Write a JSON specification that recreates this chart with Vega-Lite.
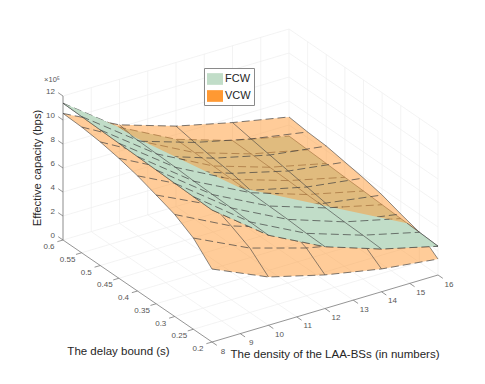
{"$schema":"https://vega.github.io/schema/vega-lite/v6.json","width":485,"height":384,"padding":0,"autosize":"none","background":"white","view":{"stroke":null},
"data":{"values":[
{"k":"s","s":"FCW","f":1,"n":8,"d":0.6,"c":11.4},{"k":"s","s":"FCW","f":1,"n":8,"d":0.55,"c":11.35},{"k":"s","s":"FCW","f":1,"n":8,"d":0.5,"c":11.3},{"k":"s","s":"FCW","f":1,"n":8,"d":0.45,"c":11.25},{"k":"s","s":"FCW","f":1,"n":8,"d":0.4,"c":11.2},{"k":"s","s":"FCW","f":1,"n":8,"d":0.35,"c":11.15},{"k":"s","s":"FCW","f":1,"n":8,"d":0.3,"c":11.1},{"k":"s","s":"FCW","f":1,"n":8,"d":0.25,"c":11.05},{"k":"s","s":"FCW","f":1,"n":8,"d":0.2,"c":11.0},
{"k":"s","s":"FCW","f":0,"n":10,"d":0.6,"c":8.0},{"k":"s","s":"FCW","f":1,"n":10,"d":0.55,"c":7.95},{"k":"s","s":"FCW","f":1,"n":10,"d":0.5,"c":7.9},{"k":"s","s":"FCW","f":1,"n":10,"d":0.45,"c":7.85},{"k":"s","s":"FCW","f":1,"n":10,"d":0.4,"c":7.75},{"k":"s","s":"FCW","f":1,"n":10,"d":0.35,"c":7.7},{"k":"s","s":"FCW","f":1,"n":10,"d":0.3,"c":7.65},{"k":"s","s":"FCW","f":1,"n":10,"d":0.25,"c":7.55},{"k":"s","s":"FCW","f":1,"n":10,"d":0.2,"c":7.5},
{"k":"s","s":"FCW","f":0,"n":12,"d":0.6,"c":5.6},{"k":"s","s":"FCW","f":0,"n":12,"d":0.55,"c":5.55},{"k":"s","s":"FCW","f":0,"n":12,"d":0.5,"c":5.5},{"k":"s","s":"FCW","f":0,"n":12,"d":0.45,"c":5.45},{"k":"s","s":"FCW","f":1,"n":12,"d":0.4,"c":5.4},{"k":"s","s":"FCW","f":1,"n":12,"d":0.35,"c":5.35},{"k":"s","s":"FCW","f":1,"n":12,"d":0.3,"c":5.3},{"k":"s","s":"FCW","f":1,"n":12,"d":0.25,"c":5.2},{"k":"s","s":"FCW","f":1,"n":12,"d":0.2,"c":5.15},
{"k":"s","s":"FCW","f":0,"n":14,"d":0.6,"c":4.1},{"k":"s","s":"FCW","f":0,"n":14,"d":0.55,"c":4.05},{"k":"s","s":"FCW","f":0,"n":14,"d":0.5,"c":4.0},{"k":"s","s":"FCW","f":0,"n":14,"d":0.45,"c":3.95},{"k":"s","s":"FCW","f":0,"n":14,"d":0.4,"c":3.85},{"k":"s","s":"FCW","f":1,"n":14,"d":0.35,"c":3.8},{"k":"s","s":"FCW","f":1,"n":14,"d":0.3,"c":3.7},{"k":"s","s":"FCW","f":1,"n":14,"d":0.25,"c":3.65},{"k":"s","s":"FCW","f":1,"n":14,"d":0.2,"c":3.56},
{"k":"s","s":"FCW","f":0,"n":16,"d":0.6,"c":3.08},{"k":"s","s":"FCW","f":0,"n":16,"d":0.55,"c":3.0},{"k":"s","s":"FCW","f":0,"n":16,"d":0.5,"c":2.92},{"k":"s","s":"FCW","f":0,"n":16,"d":0.45,"c":2.83},{"k":"s","s":"FCW","f":0,"n":16,"d":0.4,"c":2.75},{"k":"s","s":"FCW","f":0,"n":16,"d":0.35,"c":2.67},{"k":"s","s":"FCW","f":0,"n":16,"d":0.3,"c":2.58},{"k":"s","s":"FCW","f":1,"n":16,"d":0.25,"c":2.5},{"k":"s","s":"FCW","f":1,"n":16,"d":0.2,"c":2.4},
{"k":"s","s":"VCW","n":8,"d":0.6,"c":10.55},{"k":"s","s":"VCW","n":8,"d":0.55,"c":10.48},{"k":"s","s":"VCW","n":8,"d":0.5,"c":10.3},{"k":"s","s":"VCW","n":8,"d":0.45,"c":10.0},{"k":"s","s":"VCW","n":8,"d":0.4,"c":9.6},{"k":"s","s":"VCW","n":8,"d":0.35,"c":9.06},{"k":"s","s":"VCW","n":8,"d":0.3,"c":8.5},{"k":"s","s":"VCW","n":8,"d":0.25,"c":7.6},{"k":"s","s":"VCW","n":8,"d":0.2,"c":6.08},
{"k":"s","s":"VCW","n":10,"d":0.6,"c":8.2},{"k":"s","s":"VCW","n":10,"d":0.55,"c":7.9},{"k":"s","s":"VCW","n":10,"d":0.5,"c":7.73},{"k":"s","s":"VCW","n":10,"d":0.45,"c":7.6},{"k":"s","s":"VCW","n":10,"d":0.4,"c":7.27},{"k":"s","s":"VCW","n":10,"d":0.35,"c":6.83},{"k":"s","s":"VCW","n":10,"d":0.3,"c":6.15},{"k":"s","s":"VCW","n":10,"d":0.25,"c":5.37},{"k":"s","s":"VCW","n":10,"d":0.2,"c":4.02},
{"k":"s","s":"VCW","n":12,"d":0.6,"c":6.7},{"k":"s","s":"VCW","n":12,"d":0.55,"c":6.4},{"k":"s","s":"VCW","n":12,"d":0.5,"c":6.15},{"k":"s","s":"VCW","n":12,"d":0.45,"c":5.95},{"k":"s","s":"VCW","n":12,"d":0.4,"c":5.6},{"k":"s","s":"VCW","n":12,"d":0.35,"c":5.1},{"k":"s","s":"VCW","n":12,"d":0.3,"c":4.6},{"k":"s","s":"VCW","n":12,"d":0.25,"c":3.98},{"k":"s","s":"VCW","n":12,"d":0.2,"c":2.8},
{"k":"s","s":"VCW","n":14,"d":0.6,"c":5.6},{"k":"s","s":"VCW","n":14,"d":0.55,"c":5.3},{"k":"s","s":"VCW","n":14,"d":0.5,"c":5.02},{"k":"s","s":"VCW","n":14,"d":0.45,"c":4.75},{"k":"s","s":"VCW","n":14,"d":0.4,"c":4.48},{"k":"s","s":"VCW","n":14,"d":0.35,"c":4.2},{"k":"s","s":"VCW","n":14,"d":0.3,"c":3.75},{"k":"s","s":"VCW","n":14,"d":0.25,"c":3.0},{"k":"s","s":"VCW","n":14,"d":0.2,"c":1.9},
{"k":"s","s":"VCW","n":16,"d":0.6,"c":4.67},{"k":"s","s":"VCW","n":16,"d":0.55,"c":4.48},{"k":"s","s":"VCW","n":16,"d":0.5,"c":4.37},{"k":"s","s":"VCW","n":16,"d":0.45,"c":4.1},{"k":"s","s":"VCW","n":16,"d":0.4,"c":3.83},{"k":"s","s":"VCW","n":16,"d":0.35,"c":3.48},{"k":"s","s":"VCW","n":16,"d":0.3,"c":2.96},{"k":"s","s":"VCW","n":16,"d":0.25,"c":2.5},{"k":"s","s":"VCW","n":16,"d":0.2,"c":1.33},
{"k":"xr","n":10.3,"d":0.55,"c":7.59},{"k":"xr","n":11,"d":0.5,"c":6.7},{"k":"xr","n":11.7,"d":0.45,"c":5.81},{"k":"xr","n":13,"d":0.4,"c":4.62},{"k":"xr","n":14.6,"d":0.35,"c":3.46},{"k":"xr","n":15.6,"d":0.3,"c":2.8},
{"k":"xc","n":10,"d":0.57,"c":7.97},{"k":"xc","n":12,"d":0.43,"c":5.3},{"k":"xc","n":14,"d":0.37,"c":3.85},{"k":"xc","n":16,"d":0.283,"c":2.55},
{"k":"front","o":0,"n":16,"d":0.283,"c":2.55},{"k":"front","o":1,"n":14.25,"d":0.365,"c":3.45},{"k":"front","o":2,"n":12,"d":0.43,"c":5.2},{"k":"front","o":3,"n":10.2,"d":0.57,"c":7.6},{"k":"front","o":4,"n":9.9,"d":0.6,"c":8.15},{"k":"front","o":5,"n":8,"d":0.6,"c":11.4},{"k":"front","o":6,"n":8,"d":0.2,"c":11.0},{"k":"front","o":7,"n":10,"d":0.2,"c":7.5},{"k":"front","o":8,"n":12,"d":0.2,"c":5.15},{"k":"front","o":9,"n":14,"d":0.2,"c":3.56},{"k":"front","o":10,"n":16,"d":0.2,"c":2.4},
{"k":"g","n":8,"d":0.6,"c":0,"n2":8,"d2":0.6,"c2":12},{"k":"g","n":9,"d":0.6,"c":0,"n2":9,"d2":0.6,"c2":12},{"k":"g","n":10,"d":0.6,"c":0,"n2":10,"d2":0.6,"c2":12},{"k":"g","n":11,"d":0.6,"c":0,"n2":11,"d2":0.6,"c2":12},{"k":"g","n":12,"d":0.6,"c":0,"n2":12,"d2":0.6,"c2":12},{"k":"g","n":13,"d":0.6,"c":0,"n2":13,"d2":0.6,"c2":12},{"k":"g","n":14,"d":0.6,"c":0,"n2":14,"d2":0.6,"c2":12},{"k":"g","n":15,"d":0.6,"c":0,"n2":15,"d2":0.6,"c2":12},{"k":"g","n":16,"d":0.6,"c":0,"n2":16,"d2":0.6,"c2":12},
{"k":"g","n":16,"d":0.55,"c":0,"n2":16,"d2":0.55,"c2":12},{"k":"g","n":16,"d":0.5,"c":0,"n2":16,"d2":0.5,"c2":12},{"k":"g","n":16,"d":0.45,"c":0,"n2":16,"d2":0.45,"c2":12},{"k":"g","n":16,"d":0.4,"c":0,"n2":16,"d2":0.4,"c2":12},{"k":"g","n":16,"d":0.35,"c":0,"n2":16,"d2":0.35,"c2":12},{"k":"g","n":16,"d":0.3,"c":0,"n2":16,"d2":0.3,"c2":12},{"k":"g","n":16,"d":0.25,"c":0,"n2":16,"d2":0.25,"c2":12},{"k":"g","n":16,"d":0.2,"c":0,"n2":16,"d2":0.2,"c2":12},
{"k":"g","n":8,"d":0.6,"c":0,"n2":16,"d2":0.6,"c2":0},{"k":"g","n":8,"d":0.6,"c":2,"n2":16,"d2":0.6,"c2":2},{"k":"g","n":8,"d":0.6,"c":4,"n2":16,"d2":0.6,"c2":4},{"k":"g","n":8,"d":0.6,"c":6,"n2":16,"d2":0.6,"c2":6},{"k":"g","n":8,"d":0.6,"c":8,"n2":16,"d2":0.6,"c2":8},{"k":"g","n":8,"d":0.6,"c":10,"n2":16,"d2":0.6,"c2":10},{"k":"g","n":8,"d":0.6,"c":12,"n2":16,"d2":0.6,"c2":12},
{"k":"g","n":16,"d":0.6,"c":0,"n2":16,"d2":0.2,"c2":0},{"k":"g","n":16,"d":0.6,"c":2,"n2":16,"d2":0.2,"c2":2},{"k":"g","n":16,"d":0.6,"c":4,"n2":16,"d2":0.2,"c2":4},{"k":"g","n":16,"d":0.6,"c":6,"n2":16,"d2":0.2,"c2":6},{"k":"g","n":16,"d":0.6,"c":8,"n2":16,"d2":0.2,"c2":8},{"k":"g","n":16,"d":0.6,"c":10,"n2":16,"d2":0.2,"c2":10},{"k":"g","n":16,"d":0.6,"c":12,"n2":16,"d2":0.2,"c2":12},
{"k":"g","n":9,"d":0.6,"c":0,"n2":9,"d2":0.2,"c2":0},{"k":"g","n":10,"d":0.6,"c":0,"n2":10,"d2":0.2,"c2":0},{"k":"g","n":11,"d":0.6,"c":0,"n2":11,"d2":0.2,"c2":0},{"k":"g","n":12,"d":0.6,"c":0,"n2":12,"d2":0.2,"c2":0},{"k":"g","n":13,"d":0.6,"c":0,"n2":13,"d2":0.2,"c2":0},{"k":"g","n":14,"d":0.6,"c":0,"n2":14,"d2":0.2,"c2":0},{"k":"g","n":15,"d":0.6,"c":0,"n2":15,"d2":0.2,"c2":0},
{"k":"g","n":8,"d":0.55,"c":0,"n2":16,"d2":0.55,"c2":0},{"k":"g","n":8,"d":0.5,"c":0,"n2":16,"d2":0.5,"c2":0},{"k":"g","n":8,"d":0.45,"c":0,"n2":16,"d2":0.45,"c2":0},{"k":"g","n":8,"d":0.4,"c":0,"n2":16,"d2":0.4,"c2":0},{"k":"g","n":8,"d":0.35,"c":0,"n2":16,"d2":0.35,"c2":0},{"k":"g","n":8,"d":0.3,"c":0,"n2":16,"d2":0.3,"c2":0},{"k":"g","n":8,"d":0.25,"c":0,"n2":16,"d2":0.25,"c2":0},
{"k":"a","n":8,"d":0.6,"c":0,"n2":8,"d2":0.6,"c2":12},{"k":"a","n":8,"d":0.6,"c":0,"n2":8,"d2":0.2,"c2":0},{"k":"a","n":8,"d":0.2,"c":0,"n2":16,"d2":0.2,"c2":0},
{"k":"lc","t":"0","n":8,"d":0.6,"c":0,"n2":8,"d2":0.613,"c2":0},{"k":"lc","t":"2","n":8,"d":0.6,"c":2,"n2":8,"d2":0.613,"c2":2},{"k":"lc","t":"4","n":8,"d":0.6,"c":4,"n2":8,"d2":0.613,"c2":4},{"k":"lc","t":"6","n":8,"d":0.6,"c":6,"n2":8,"d2":0.613,"c2":6},{"k":"lc","t":"8","n":8,"d":0.6,"c":8,"n2":8,"d2":0.613,"c2":8},{"k":"lc","t":"10","n":8,"d":0.6,"c":10,"n2":8,"d2":0.613,"c2":10},{"k":"lc","t":"12","n":8,"d":0.6,"c":12,"n2":8,"d2":0.613,"c2":12},
{"k":"ld","t":"0.6","n":8,"d":0.6,"c":0,"n2":7.8,"d2":0.6,"c2":0},{"k":"ld","t":"0.55","n":8,"d":0.55,"c":0,"n2":7.8,"d2":0.55,"c2":0},{"k":"ld","t":"0.5","n":8,"d":0.5,"c":0,"n2":7.8,"d2":0.5,"c2":0},{"k":"ld","t":"0.45","n":8,"d":0.45,"c":0,"n2":7.8,"d2":0.45,"c2":0},{"k":"ld","t":"0.4","n":8,"d":0.4,"c":0,"n2":7.8,"d2":0.4,"c2":0},{"k":"ld","t":"0.35","n":8,"d":0.35,"c":0,"n2":7.8,"d2":0.35,"c2":0},{"k":"ld","t":"0.3","n":8,"d":0.3,"c":0,"n2":7.8,"d2":0.3,"c2":0},{"k":"ld","t":"0.25","n":8,"d":0.25,"c":0,"n2":7.8,"d2":0.25,"c2":0},{"k":"ld","t":"0.2","n":8,"d":0.2,"c":0,"n2":7.8,"d2":0.2,"c2":0},
{"k":"ln","t":"8","n":8,"d":0.2,"c":0,"n2":8,"d2":0.187,"c2":0},{"k":"ln","t":"9","n":9,"d":0.2,"c":0,"n2":9,"d2":0.187,"c2":0},{"k":"ln","t":"10","n":10,"d":0.2,"c":0,"n2":10,"d2":0.187,"c2":0},{"k":"ln","t":"11","n":11,"d":0.2,"c":0,"n2":11,"d2":0.187,"c2":0},{"k":"ln","t":"12","n":12,"d":0.2,"c":0,"n2":12,"d2":0.187,"c2":0},{"k":"ln","t":"13","n":13,"d":0.2,"c":0,"n2":13,"d2":0.187,"c2":0},{"k":"ln","t":"14","n":14,"d":0.2,"c":0,"n2":14,"d2":0.187,"c2":0},{"k":"ln","t":"15","n":15,"d":0.2,"c":0,"n2":15,"d2":0.187,"c2":0},{"k":"ln","t":"16","n":16,"d":0.2,"c":0,"n2":16,"d2":0.187,"c2":0},
{"k":"tt","t":"The delay bound (s)","n":8,"d":0.451,"c":-6.17},{"k":"tt","t":"The density of the LAA-BSs (in numbers)","n":12.354,"d":0.2,"c":-4.12},
{"k":"tz","t":"Effective capacity (bps)","n":8,"d":0.6,"c":6},
{"k":"ex","t":"×10⁵","n":8,"d":0.6,"c":13.33}
]},
"transform":[
{"calculate":"212+28.25*(datum.n-8)-372.5*(datum.d-0.2)","as":"sx"},
{"calculate":"342-8.375*(datum.n-8)-255*(datum.d-0.2)-12*datum.c","as":"sy"},
{"calculate":"212+28.25*(datum.n2-8)-372.5*(datum.d2-0.2)","as":"sx2"},
{"calculate":"342-8.375*(datum.n2-8)-255*(datum.d2-0.2)-12*datum.c2","as":"sy2"},
{"calculate":"datum.n==8?(0.6-datum.d)*100:datum.d==0.2?40+datum.n-8:datum.n==16?60+(datum.d-0.2)*100:100+16-datum.n","as":"rim"}
],
"encoding":{
"x":{"field":"sx","type":"quantitative","scale":{"domain":[0,485],"nice":false,"zero":false},"axis":null},
"y":{"field":"sy","type":"quantitative","scale":{"domain":[384,0],"nice":false,"zero":false},"axis":null}
},
"layer":[
{"transform":[{"filter":"datum.k=='g'"}],"mark":{"type":"rule","stroke":"#eeeeee","strokeWidth":0.7},"encoding":{"x2":{"field":"sx2"},"y2":{"field":"sy2"}}},
{"transform":[{"filter":"datum.k=='a'||datum.k=='lc'||datum.k=='ld'||datum.k=='ln'"}],"mark":{"type":"rule","stroke":"#7a7a7a","strokeWidth":0.8},"encoding":{"x2":{"field":"sx2"},"y2":{"field":"sy2"}}},
{"transform":[{"filter":"datum.k=='s'&&datum.s=='FCW'&&(datum.n==8||datum.n==16||datum.d==0.2||datum.d==0.6)"}],"mark":{"type":"line","strokeWidth":0},"encoding":{"order":{"field":"rim","type":"quantitative"},"fill":{"field":"s","type":"nominal","scale":{"domain":["FCW","VCW"],"range":["#C1DDC8","#FF9933"]},"legend":{"title":null,"orient":"none","legendX":204,"legendY":68,"padding":3,"strokeColor":"#8a8a8a","fillColor":"white","symbolType":"M-1,-0.73H1V0.73H-1Z","symbolSize":256,"symbolOpacity":1,"symbolStrokeWidth":0,"labelFont":"Liberation Sans","labelFontSize":11,"labelColor":"#262626","labelOffset":2,"rowPadding":3}}}},
{"transform":[{"filter":"datum.k=='s'&&datum.s=='FCW'"}],"mark":{"type":"line","stroke":"#404040","strokeWidth":0.6},"encoding":{"detail":{"field":"n"},"order":{"field":"d","type":"quantitative"}}},
{"transform":[{"filter":"datum.k=='s'&&datum.s=='FCW'"}],"mark":{"type":"line","stroke":"#404040","strokeWidth":0.7,"strokeDash":[8,4]},"encoding":{"detail":{"field":"d"},"order":{"field":"n","type":"quantitative"}}},
{"transform":[{"filter":"datum.k=='s'&&datum.s=='VCW'&&(datum.n==8||datum.n==16||datum.d==0.2||datum.d==0.6)"}],"mark":{"type":"line","strokeWidth":0,"opacity":0.5},"encoding":{"order":{"field":"rim","type":"quantitative"},"fill":{"field":"s","type":"nominal"}}},
{"transform":[{"filter":"datum.k=='s'&&datum.s=='VCW'"}],"mark":{"type":"line","stroke":"#404040","strokeWidth":0.6},"encoding":{"detail":{"field":"n"},"order":{"field":"d","type":"quantitative"}}},
{"transform":[{"filter":"datum.k=='s'&&datum.s=='VCW'"}],"mark":{"type":"line","stroke":"#404040","strokeWidth":0.7,"strokeDash":[8,4]},"encoding":{"detail":{"field":"d"},"order":{"field":"n","type":"quantitative"}}},
{"transform":[{"filter":"datum.k=='front'"}],"mark":{"type":"line","fill":"#C1DDC8","strokeWidth":0},"encoding":{"order":{"field":"o","type":"quantitative"}}},
{"transform":[{"filter":"(datum.k=='s'&&datum.f==1)||datum.k=='xc'"}],"mark":{"type":"line","stroke":"#404040","strokeWidth":0.6},"encoding":{"detail":{"field":"n"},"order":{"field":"d","type":"quantitative"}}},
{"transform":[{"filter":"(datum.k=='s'&&datum.f==1)||datum.k=='xr'"}],"mark":{"type":"line","stroke":"#404040","strokeWidth":0.7,"strokeDash":[8,4]},"encoding":{"detail":{"field":"d"},"order":{"field":"n","type":"quantitative"}}},
{"transform":[{"filter":"datum.k=='lc'"}],"mark":{"type":"text","font":"Liberation Sans","fontSize":8,"fill":"#555555","align":"right","baseline":"middle","dx":-8,"dy":-4},"encoding":{"text":{"field":"t"}}},
{"transform":[{"filter":"datum.k=='ld'"}],"mark":{"type":"text","font":"Liberation Sans","fontSize":8,"fill":"#555555","align":"center","baseline":"middle","dx":-14,"dy":7},"encoding":{"text":{"field":"t"}}},
{"transform":[{"filter":"datum.k=='ln'"}],"mark":{"type":"text","font":"Liberation Sans","fontSize":8,"fill":"#555555","align":"center","baseline":"middle","dx":11,"dy":9.5},"encoding":{"text":{"field":"t"}}},
{"transform":[{"filter":"datum.k=='tt'"}],"mark":{"type":"text","font":"Liberation Sans","fontSize":11.5,"fill":"#262626","align":"center","baseline":"middle"},"encoding":{"text":{"field":"t"}}},
{"transform":[{"filter":"datum.k=='tz'"}],"mark":{"type":"text","font":"Liberation Sans","fontSize":11.3,"fill":"#262626","align":"center","baseline":"middle","angle":270,"dy":-25},"encoding":{"text":{"field":"t"}}},
{"transform":[{"filter":"datum.k=='ex'"}],"mark":{"type":"text","font":"Liberation Sans","fontSize":7.5,"fill":"#555555","align":"center","baseline":"middle","dx":-11},"encoding":{"text":{"field":"t"}}}
]}
